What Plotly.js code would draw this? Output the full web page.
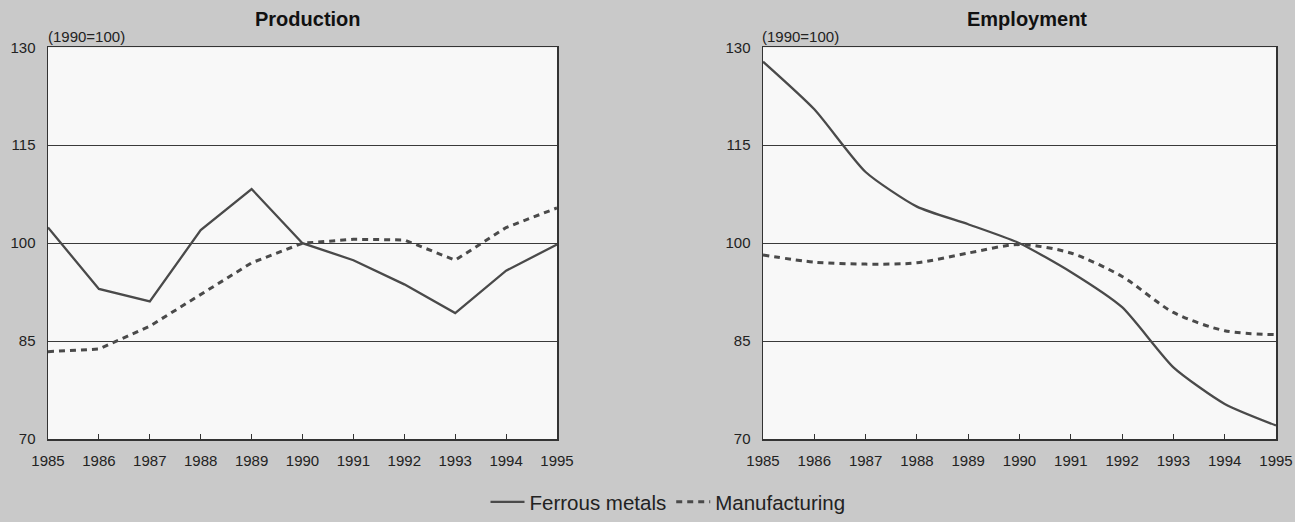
<!DOCTYPE html>
<html><head><meta charset="utf-8">
<script src="https://cdn.plot.ly/plotly-3.0.1.min.js"></script>
<style>html,body{margin:0;padding:0;background:#c9c9c9;overflow:hidden;}#chart{width:1295px;height:522px;}</style>
</head><body><div id="chart"></div>
<script>
const years = [1985,1986,1987,1988,1989,1990,1991,1992,1993,1994,1995];
const prodFerrous = [102.4,93.0,91.1,102.0,108.3,100.0,97.4,93.7,89.3,95.8,99.8];
const prodManuf   = [83.4,83.8,87.3,92.1,97.0,100.0,100.6,100.5,97.4,102.4,105.4];
const empFerrous  = [127.8,120.5,110.9,105.6,102.9,100.0,95.6,90.2,81.0,75.4,72.1];
const empManuf    = [98.2,97.1,96.8,97.0,98.5,99.8,98.5,94.9,89.4,86.6,86.0];
const yTicks = [70,85,100,115,130];
const xTickLabels = years.map(String);
const panelTitles = ["Production","Employment"];
const unitNote = "(1990=100)";
const seriesNames = ["Ferrous metals","Manufacturing"];

const lineCol = '#4a4a4a';
const traces = [
  {x:years,y:prodFerrous,xaxis:'x',yaxis:'y',mode:'lines',name:seriesNames[0],line:{color:lineCol,width:2.3}},
  {x:years,y:prodManuf,xaxis:'x',yaxis:'y',mode:'lines',name:seriesNames[1],line:{color:lineCol,width:3,dash:'6px,5px'}},
  {x:years,y:empFerrous,xaxis:'x2',yaxis:'y2',mode:'lines',showlegend:false,line:{color:lineCol,width:2.3,shape:'spline',smoothing:0.6}},
  {x:years,y:empManuf,xaxis:'x2',yaxis:'y2',mode:'lines',showlegend:false,line:{color:lineCol,width:3,dash:'6px,5px',shape:'spline',smoothing:0.8}}
];
const W=1295,H=522;
const fx = p=>p/W, fy = p=>(H-p)/H;
const F='Liberation Sans, Arial';
const xa = d=>({domain:d,range:[1985,1995],tickvals:years,ticktext:xTickLabels,ticks:'inside',ticklen:5,tickcolor:'#333',
  showgrid:false,showline:true,linecolor:'#333',linewidth:1.5,mirror:true,zeroline:false,ticklabelstandoff:7,
  tickfont:{family:F,size:15,color:'#222'},automargin:false,fixedrange:true});
const ya = (anchor)=>({domain:[fy(446),fy(48)],range:[70,130],tickvals:yTicks,ticks:'',showgrid:true,gridcolor:'#3a3a3a',gridwidth:1,
  showline:true,linecolor:'#333',linewidth:1.5,mirror:true,zeroline:false,anchor:anchor,ticklabelstandoff:8,
  tickfont:{family:F,size:15,color:'#222'},automargin:false,fixedrange:true});
const layout = {
  width:W,height:H,margin:{l:0,r:0,t:0,b:0},
  paper_bgcolor:'#c9c9c9',plot_bgcolor:'#f8f8f8',
  xaxis:Object.assign(xa([fx(48),fx(557)]),{anchor:'y'}),
  yaxis:ya('x'),
  xaxis2:Object.assign(xa([fx(763),fx(1276)]),{anchor:'y2'}),
  yaxis2:ya('x2'),
  showlegend:true,
  legend:{orientation:'h',x:fx(668),xanchor:'center',y:fy(510),yanchor:'middle',bgcolor:'rgba(0,0,0,0)',
    font:{family:F,size:20.5,color:'#222'},itemwidth:34},
  annotations:[
    {text:'<b>'+panelTitles[0]+'</b>',xref:'paper',yref:'paper',x:fx(308),y:fy(19),showarrow:false,xanchor:'center',yanchor:'middle',font:{family:F,size:20,color:'#111'}},
    {text:'<b>'+panelTitles[1]+'</b>',xref:'paper',yref:'paper',x:fx(1027),y:fy(19),showarrow:false,xanchor:'center',yanchor:'middle',font:{family:F,size:20,color:'#111'}},
    {text:unitNote,xref:'paper',yref:'paper',x:fx(46),y:fy(37),showarrow:false,xanchor:'left',yanchor:'middle',font:{family:F,size:15,color:'#222'}},
    {text:unitNote,xref:'paper',yref:'paper',x:fx(760),y:fy(37),showarrow:false,xanchor:'left',yanchor:'middle',font:{family:F,size:15,color:'#222'}}
  ]
};
Plotly.newPlot('chart',traces,layout,{displayModeBar:false,staticPlot:true});
</script></body></html>
